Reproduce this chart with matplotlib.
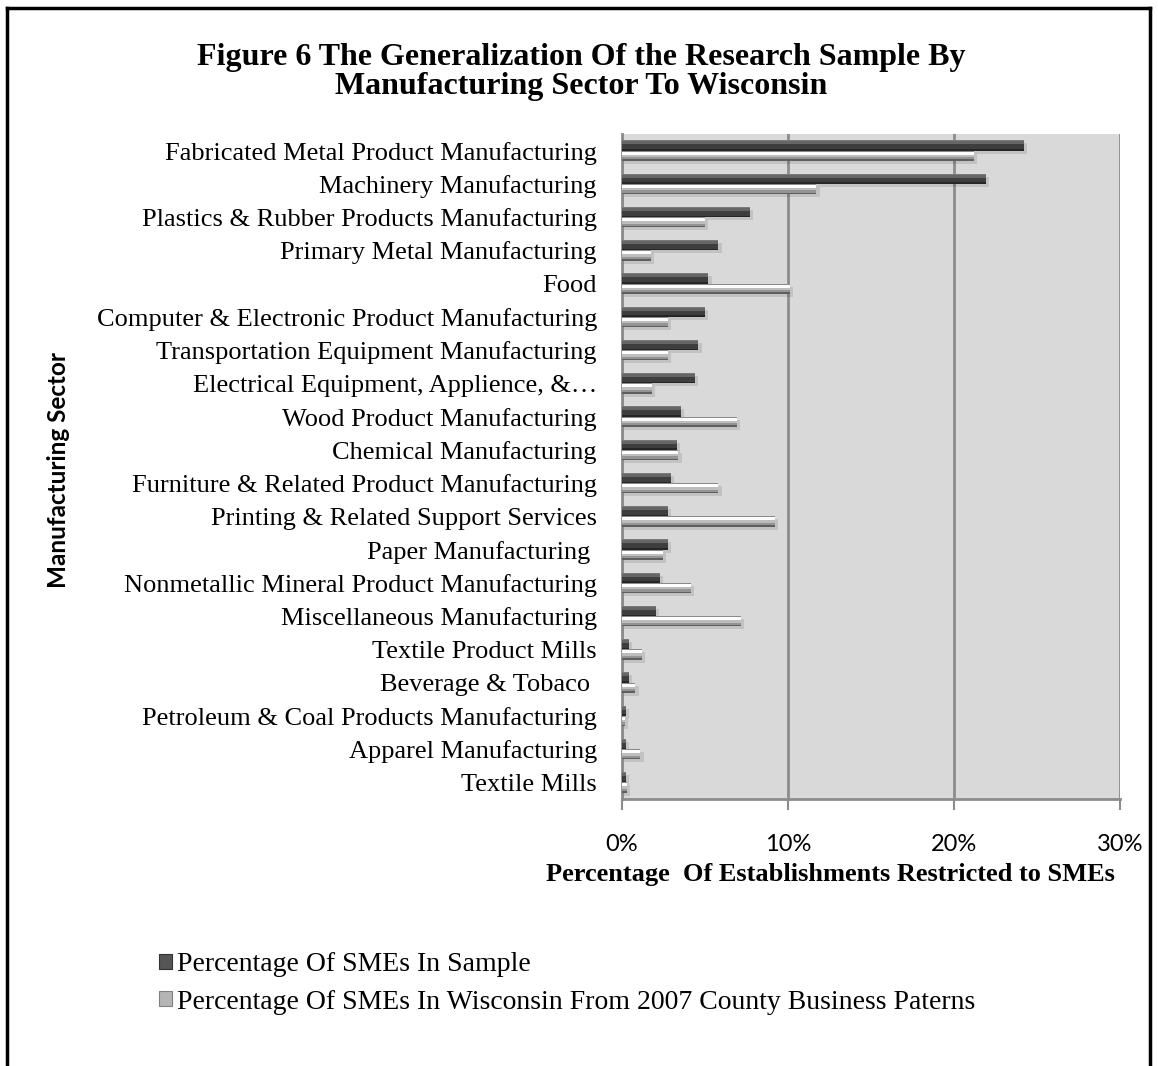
import matplotlib.pyplot as plt
import numpy as np
from matplotlib.lines import Line2D
from matplotlib.patches import Patch
from matplotlib.ticker import PercentFormatter

sectors = [
    'Fabricated Metal Product Manufacturing',
    'Machinery Manufacturing',
    'Plastics & Rubber Products Manufacturing',
    'Primary Metal Manufacturing',
    'Food',
    'Computer & Electronic Product Manufacturing',
    'Transportation Equipment Manufacturing',
    'Electrical Equipment, Applience, &\u2026',
    'Wood Product Manufacturing',
    'Chemical Manufacturing',
    'Furniture & Related Product Manufacturing',
    'Printing & Related Support Services',
    'Paper Manufacturing ',
    'Nonmetallic Mineral Product Manufacturing',
    'Miscellaneous Manufacturing',
    'Textile Product Mills',
    'Beverage & Tobaco ',
    'Petroleum & Coal Products Manufacturing',
    'Apparel Manufacturing',
    'Textile Mills',
]
# percent of SMEs
sample = [24.2, 21.9, 7.7, 5.8, 5.2, 5.0, 4.6, 4.4, 3.55, 3.3,
          2.95, 2.75, 2.75, 2.3, 2.05, 0.42, 0.42, 0.24, 0.24, 0.24]
wisconsin = [21.2, 11.7, 5.0, 1.75, 10.1, 2.75, 2.75, 1.8, 6.9, 3.4,
             5.8, 9.2, 2.45, 4.15, 7.15, 1.2, 0.8, 0.18, 1.1, 0.3]
series_names = ['Percentage Of SMEs In Sample',
                'Percentage Of SMEs In Wisconsin From 2007 County Business Paterns']
xticks = [0, 10, 20, 30]

serif = 'Liberation Serif'
sans = 'Lato'

fig = plt.figure(figsize=(11.58, 10.66), dpi=100)
ax = fig.add_axes([622 / 1158, 1 - 799 / 1066, 498 / 1158, 665 / 1066])
ax.set_facecolor('#d9d9d9')

rows = np.arange(len(sectors))
h = 0.31

# stripes (top fraction, bottom fraction, colour) giving the bevelled look
dark_bands = [(0.0, 0.10, '#7a7a7a'), (0.10, 0.40, '#666666'),
              (0.40, 0.85, '#3e3e3e'), (0.85, 1.0, '#262626')]
light_bands = [(0.0, 0.10, '#8a8a8a'), (0.10, 0.38, '#fdfdfd'),
               (0.38, 0.62, '#bdbdbd'), (0.62, 0.85, '#949494'), (0.85, 1.0, '#5e5e5e')]

for vals, top, bands in [(sample, -h, dark_bands), (wisconsin, 0.0, light_bands)]:
    vals = np.array(vals)
    # soft drop shadow
    ax.barh(rows + top + h / 2 + 0.09, vals + 0.2, height=h, left=0,
            color='#000000', alpha=0.1, zorder=2, linewidth=0)
    for f0, f1, c in bands:
        hh = (f1 - f0) * h
        ax.barh(rows + top + f0 * h + hh / 2, vals, height=hh, left=0,
                color=c, linewidth=0, zorder=3)

ax.set_ylim(len(sectors) - 0.5, -0.5)
ax.set_xlim(0, 30)
ax.set_yticks(rows)
ax.set_yticklabels(sectors, fontfamily=serif, fontsize=19)
ax.tick_params(axis='y', length=0, pad=18)

ax.set_xticks(xticks)
ax.xaxis.set_major_formatter(PercentFormatter(decimals=0))
ax.tick_params(axis='x', direction='out', length=8, width=1.5, color='#8c8c8c',
               pad=17, labelsize=17)
for lab in ax.get_xticklabels():
    lab.set_fontfamily(sans)

ax.grid(axis='x', color='#8c8c8c', linewidth=2, zorder=1)
ax.set_axisbelow(True)
for s in ['top', 'right']:
    ax.spines[s].set_visible(False)
for s in ['left', 'bottom']:
    ax.spines[s].set_color('#8c8c8c')
    ax.spines[s].set_linewidth(2)

fig.text(58 / 1158, 1 - 470 / 1066, 'Manufacturing Sector', rotation=90,
         ha='center', va='center', fontfamily=sans, fontweight='bold', fontsize=17.5)
fig.text(830 / 1158, 1 - 875 / 1066, 'Percentage  Of Establishments Restricted to SMEs',
         ha='center', va='center', fontfamily=serif, fontweight='bold', fontsize=19)

fig.text(581 / 1158, 1 - 72 / 1066,
         'Figure 6 The Generalization Of the Research Sample By\nManufacturing Sector To Wisconsin',
         ha='center', va='center', fontfamily=serif, fontweight='bold', fontsize=23,
         linespacing=0.98)

handles = [Patch(facecolor='#555555', edgecolor='#333333', linewidth=0.8),
           Patch(facecolor='#b5b5b5', edgecolor='#808080', linewidth=0.8)]
fig.legend(handles, series_names, loc='upper left',
           bbox_to_anchor=(148 / 1158, 1 - 941 / 1066), frameon=False,
           prop={'family': serif, 'size': 20}, handlelength=0.45, handleheight=0.45,
           handletextpad=0.2, labelspacing=0.45, borderaxespad=0)

# outer frame, open at the bottom
frame = dict(color='black', linewidth=2.5, transform=fig.transFigure)
fig.add_artist(Line2D([7 / 1158, 7 / 1158], [0, 1 - 8 / 1066], **frame))
fig.add_artist(Line2D([7 / 1158, 1150 / 1158], [1 - 8 / 1066, 1 - 8 / 1066], **frame))
fig.add_artist(Line2D([1150 / 1158, 1150 / 1158], [0, 1 - 8 / 1066], **frame))

fig.savefig('out.png', dpi=100)
